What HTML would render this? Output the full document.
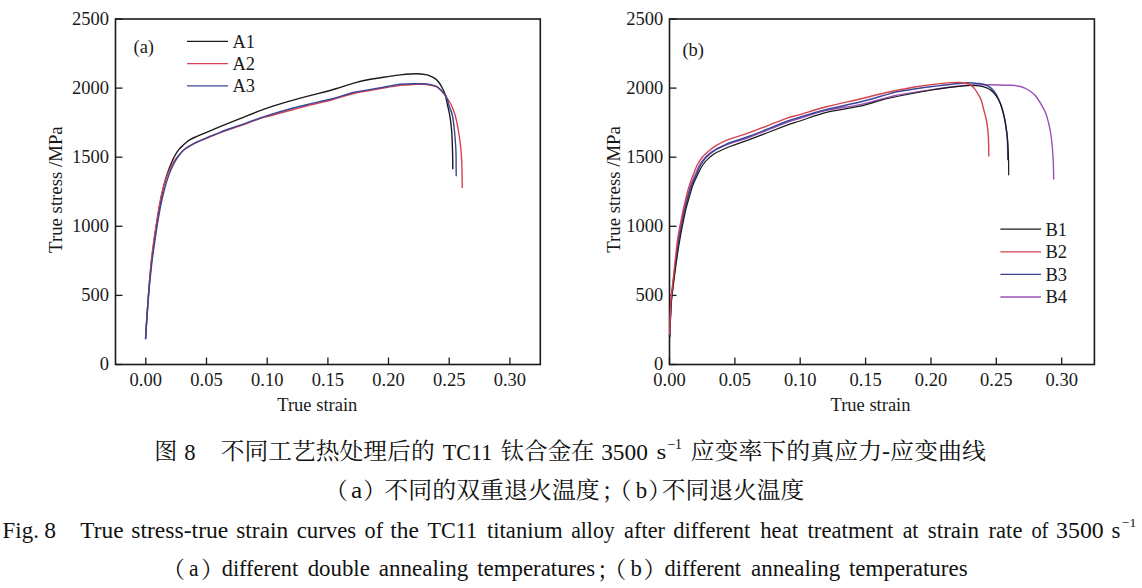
<!DOCTYPE html>
<html><head><meta charset="utf-8">
<style>
html,body{margin:0;padding:0;background:#fff;}
body{width:1142px;height:588px;position:relative;overflow:hidden;}
svg{position:absolute;left:0;top:0;}
</style></head><body>
<svg width="1142" height="588" viewBox="0 0 1142 588">
<g font-family="Liberation Serif, serif" font-size="18.5" fill="#1a1a1a">
<text x="145.8" y="385.6" text-anchor="middle">0.00</text>
<text x="206.5" y="385.6" text-anchor="middle">0.05</text>
<text x="267.2" y="385.6" text-anchor="middle">0.10</text>
<text x="327.9" y="385.6" text-anchor="middle">0.15</text>
<text x="388.5" y="385.6" text-anchor="middle">0.20</text>
<text x="449.2" y="385.6" text-anchor="middle">0.25</text>
<text x="509.9" y="385.6" text-anchor="middle">0.30</text>
<text x="669.5" y="385.6" text-anchor="middle">0.00</text>
<text x="734.9" y="385.6" text-anchor="middle">0.05</text>
<text x="800.2" y="385.6" text-anchor="middle">0.10</text>
<text x="865.6" y="385.6" text-anchor="middle">0.15</text>
<text x="931.0" y="385.6" text-anchor="middle">0.20</text>
<text x="996.3" y="385.6" text-anchor="middle">0.25</text>
<text x="1061.7" y="385.6" text-anchor="middle">0.30</text>
<text x="109" y="370.0" text-anchor="end">0</text>
<text x="663.2" y="370.0" text-anchor="end">0</text>
<text x="109" y="300.9" text-anchor="end">500</text>
<text x="663.2" y="300.9" text-anchor="end">500</text>
<text x="109" y="231.8" text-anchor="end">1000</text>
<text x="663.2" y="231.8" text-anchor="end">1000</text>
<text x="109" y="162.7" text-anchor="end">1500</text>
<text x="663.2" y="162.7" text-anchor="end">1500</text>
<text x="109" y="93.6" text-anchor="end">2000</text>
<text x="663.2" y="93.6" text-anchor="end">2000</text>
<text x="109" y="24.5" text-anchor="end">2500</text>
<text x="663.2" y="24.5" text-anchor="end">2500</text>
<text x="317.3" y="411.2" text-anchor="middle">True strain</text>
<text x="870.5" y="411.3" text-anchor="middle">True strain</text>
<text transform="translate(62.1,189.6) rotate(-90)" text-anchor="middle" font-size="18.8">True stress /MPa</text>
<text transform="translate(620.1,189.4) rotate(-90)" text-anchor="middle" font-size="18.8">True stress /MPa</text>
<text x="133.5" y="52.9">(a)</text>
<text x="682.4" y="55.9">(b)</text>
<text x="232.4" y="47.7">A1</text>
<text x="232.4" y="69.9">A2</text>
<text x="232.4" y="92.1">A3</text>
<text x="1045.5" y="235.5">B1</text>
<text x="1045.5" y="258.1">B2</text>
<text x="1045.5" y="280.7">B3</text>
<text x="1045.5" y="303.3">B4</text>
</g>
<rect x="115.5" y="19.0" width="424.79999999999995" height="345.5" fill="none" stroke="#1a1a1a" stroke-width="1.6"/>
<line x1="145.8" y1="364.5" x2="145.8" y2="357.5" stroke="#1a1a1a" stroke-width="1.3"/>
<line x1="206.5" y1="364.5" x2="206.5" y2="357.5" stroke="#1a1a1a" stroke-width="1.3"/>
<line x1="267.2" y1="364.5" x2="267.2" y2="357.5" stroke="#1a1a1a" stroke-width="1.3"/>
<line x1="327.9" y1="364.5" x2="327.9" y2="357.5" stroke="#1a1a1a" stroke-width="1.3"/>
<line x1="388.5" y1="364.5" x2="388.5" y2="357.5" stroke="#1a1a1a" stroke-width="1.3"/>
<line x1="449.2" y1="364.5" x2="449.2" y2="357.5" stroke="#1a1a1a" stroke-width="1.3"/>
<line x1="509.9" y1="364.5" x2="509.9" y2="357.5" stroke="#1a1a1a" stroke-width="1.3"/>
<line x1="115.5" y1="364.5" x2="122.5" y2="364.5" stroke="#1a1a1a" stroke-width="1.3"/>
<line x1="115.5" y1="295.4" x2="122.5" y2="295.4" stroke="#1a1a1a" stroke-width="1.3"/>
<line x1="115.5" y1="226.3" x2="122.5" y2="226.3" stroke="#1a1a1a" stroke-width="1.3"/>
<line x1="115.5" y1="157.2" x2="122.5" y2="157.2" stroke="#1a1a1a" stroke-width="1.3"/>
<line x1="115.5" y1="88.1" x2="122.5" y2="88.1" stroke="#1a1a1a" stroke-width="1.3"/>
<line x1="115.5" y1="19.0" x2="122.5" y2="19.0" stroke="#1a1a1a" stroke-width="1.3"/>
<rect x="669.5" y="19.0" width="424.9000000000001" height="345.5" fill="none" stroke="#1a1a1a" stroke-width="1.6"/>
<line x1="669.5" y1="364.5" x2="669.5" y2="357.5" stroke="#1a1a1a" stroke-width="1.3"/>
<line x1="734.9" y1="364.5" x2="734.9" y2="357.5" stroke="#1a1a1a" stroke-width="1.3"/>
<line x1="800.2" y1="364.5" x2="800.2" y2="357.5" stroke="#1a1a1a" stroke-width="1.3"/>
<line x1="865.6" y1="364.5" x2="865.6" y2="357.5" stroke="#1a1a1a" stroke-width="1.3"/>
<line x1="931.0" y1="364.5" x2="931.0" y2="357.5" stroke="#1a1a1a" stroke-width="1.3"/>
<line x1="996.3" y1="364.5" x2="996.3" y2="357.5" stroke="#1a1a1a" stroke-width="1.3"/>
<line x1="1061.7" y1="364.5" x2="1061.7" y2="357.5" stroke="#1a1a1a" stroke-width="1.3"/>
<line x1="669.5" y1="364.5" x2="676.5" y2="364.5" stroke="#1a1a1a" stroke-width="1.3"/>
<line x1="669.5" y1="295.4" x2="676.5" y2="295.4" stroke="#1a1a1a" stroke-width="1.3"/>
<line x1="669.5" y1="226.3" x2="676.5" y2="226.3" stroke="#1a1a1a" stroke-width="1.3"/>
<line x1="669.5" y1="157.2" x2="676.5" y2="157.2" stroke="#1a1a1a" stroke-width="1.3"/>
<line x1="669.5" y1="88.1" x2="676.5" y2="88.1" stroke="#1a1a1a" stroke-width="1.3"/>
<line x1="669.5" y1="19.0" x2="676.5" y2="19.0" stroke="#1a1a1a" stroke-width="1.3"/>
<line x1="187" y1="41.4" x2="228" y2="41.4" stroke="#1a1a1a" stroke-width="1.3"/>
<line x1="187" y1="63.6" x2="228" y2="63.6" stroke="#d6424f" stroke-width="1.3"/>
<line x1="187" y1="85.8" x2="228" y2="85.8" stroke="#3b4699" stroke-width="1.3"/>
<line x1="1000.4" y1="229.2" x2="1041" y2="229.2" stroke="#1a1a1a" stroke-width="1.3"/>
<line x1="1000.4" y1="251.8" x2="1041" y2="251.8" stroke="#d6424f" stroke-width="1.3"/>
<line x1="1000.4" y1="274.4" x2="1041" y2="274.4" stroke="#3b4699" stroke-width="1.3"/>
<line x1="1000.4" y1="297.0" x2="1041" y2="297.0" stroke="#9c50b6" stroke-width="1.3"/>
<path d="M145.6 338.5 C145.8 335.4 146.3 326.2 146.7 320.0 C147.1 313.8 147.5 307.7 148.0 301.0 C148.5 294.3 149.1 286.8 149.7 280.0 C150.3 273.2 150.9 266.7 151.7 260.0 C152.5 253.3 153.4 246.7 154.3 240.0 C155.2 233.3 156.4 226.0 157.3 220.0 C158.2 214.0 159.1 209.0 160.0 204.0 C160.9 199.0 161.9 194.2 162.8 190.0 C163.7 185.8 164.6 182.3 165.6 179.0 C166.6 175.7 167.6 172.8 168.6 170.0 C169.6 167.2 170.7 164.5 171.8 162.0 C172.9 159.5 174.0 157.1 175.2 155.0 C176.4 152.9 177.4 151.3 178.8 149.6 C180.2 147.9 182.1 146.2 183.4 145.0 C184.7 143.8 185.2 143.2 186.5 142.2 C187.8 141.2 189.5 140.1 191.0 139.2 C192.5 138.3 193.2 138.0 195.7 136.9 C198.2 135.8 201.7 134.4 205.9 132.6 C210.2 130.8 215.5 128.5 221.2 126.2 C226.9 123.9 232.7 121.5 240.0 118.6 C247.3 115.7 256.3 111.8 264.9 108.8 C273.5 105.8 284.0 102.8 291.5 100.6 C299.0 98.4 303.6 97.3 310.0 95.6 C316.4 93.9 324.9 91.9 330.0 90.5 C335.1 89.1 336.2 88.6 340.5 87.3 C344.8 86.0 350.5 83.9 355.5 82.6 C360.5 81.3 365.6 80.2 370.5 79.3 C375.4 78.4 380.0 77.7 385.0 77.0 C390.0 76.3 395.2 75.4 400.5 74.9 C405.8 74.4 412.3 73.8 416.5 73.8 C420.7 73.8 423.2 74.2 425.6 74.6 C428.0 75.0 429.4 75.7 431.0 76.4 C432.6 77.1 434.2 77.9 435.5 78.9 C436.8 79.9 437.9 81.0 439.0 82.5 C440.1 84.0 441.2 85.9 442.3 88.0 C443.4 90.1 444.4 92.2 445.3 95.0 C446.2 97.8 446.8 101.7 447.5 105.0 C448.2 108.3 449.0 110.8 449.7 115.0 C450.4 119.2 451.1 124.2 451.6 130.0 C452.1 135.8 452.3 143.5 452.5 150.0 C452.7 156.5 452.8 165.7 452.8 168.8" fill="none" stroke="#1a1a1a" stroke-width="1.4" stroke-linejoin="round" stroke-linecap="round"/>
<path d="M145.6 338.5 C145.8 335.4 146.3 326.2 146.7 320.0 C147.1 313.8 147.5 307.7 148.0 301.0 C148.5 294.3 149.0 286.8 149.6 280.0 C150.2 273.2 150.7 266.7 151.4 260.0 C152.1 253.3 153.0 246.7 153.9 240.0 C154.8 233.3 156.0 226.0 156.9 220.0 C157.8 214.0 158.7 209.0 159.6 204.0 C160.5 199.0 161.5 194.2 162.6 190.0 C163.7 185.8 164.8 182.3 165.9 179.0 C167.1 175.7 168.2 172.8 169.5 170.0 C170.8 167.2 172.1 164.5 173.7 162.0 C175.3 159.5 177.1 157.1 178.9 155.0 C180.7 152.9 182.7 150.8 184.5 149.2 C186.3 147.6 187.9 146.7 190.0 145.5 C192.1 144.3 194.3 143.3 197.0 142.2 C199.7 141.0 201.9 140.2 205.9 138.6 C209.9 137.0 215.5 134.5 221.2 132.4 C226.9 130.3 232.7 128.3 240.0 125.8 C247.3 123.3 256.3 119.8 264.9 117.2 C273.5 114.6 284.0 112.0 291.5 110.0 C299.0 108.0 303.2 106.7 310.0 105.0 C316.8 103.3 324.6 101.7 332.0 99.7 C339.4 97.7 346.7 95.0 354.5 93.2 C362.3 91.4 371.3 90.2 379.0 88.9 C386.7 87.6 394.2 86.2 400.5 85.4 C406.8 84.7 412.6 84.6 416.5 84.4 C420.4 84.2 421.4 84.2 424.0 84.4 C426.6 84.6 429.9 85.2 431.8 85.5 C433.7 85.8 434.3 85.9 435.5 86.4 C436.7 86.9 437.8 87.6 439.0 88.6 C440.2 89.6 441.4 91.0 442.5 92.2 C443.6 93.4 444.5 94.6 445.5 96.0 C446.5 97.4 447.5 99.0 448.5 100.5 C449.5 102.0 450.2 102.6 451.3 105.0 C452.4 107.4 453.9 110.8 455.1 115.0 C456.3 119.2 457.3 124.2 458.3 130.0 C459.3 135.8 460.4 143.3 461.0 150.0 C461.6 156.7 461.8 163.8 462.0 170.0 C462.2 176.2 462.2 184.6 462.3 187.5" fill="none" stroke="#d6424f" stroke-width="1.4" stroke-linejoin="round" stroke-linecap="round"/>
<path d="M145.6 338.5 C145.8 335.4 146.4 326.2 146.8 320.0 C147.2 313.8 147.7 307.7 148.2 301.0 C148.7 294.3 149.3 286.8 150.0 280.0 C150.7 273.2 151.4 266.7 152.2 260.0 C153.0 253.3 154.0 246.7 155.0 240.0 C156.0 233.3 157.1 226.0 158.1 220.0 C159.1 214.0 160.0 209.0 161.0 204.0 C162.0 199.0 163.2 194.2 164.3 190.0 C165.4 185.8 166.4 182.3 167.5 179.0 C168.6 175.7 169.7 172.8 170.9 170.0 C172.1 167.2 173.4 164.5 174.8 162.0 C176.2 159.5 177.6 157.2 179.3 155.0 C181.0 152.8 183.0 150.6 185.0 149.0 C187.0 147.4 189.5 146.4 191.5 145.2 C193.5 144.0 194.6 143.2 197.0 142.0 C199.4 140.8 201.9 139.8 205.9 138.1 C209.9 136.4 215.5 134.0 221.2 131.8 C226.9 129.7 232.7 127.8 240.0 125.2 C247.3 122.6 256.3 119.2 264.9 116.4 C273.5 113.6 284.0 110.6 291.5 108.5 C299.0 106.4 303.2 105.5 310.0 103.9 C316.8 102.3 324.6 100.7 332.0 98.8 C339.4 96.9 346.7 94.1 354.5 92.3 C362.3 90.5 371.3 89.3 379.0 88.0 C386.7 86.7 394.2 85.0 400.5 84.3 C406.8 83.6 412.6 83.8 416.5 83.7 C420.4 83.6 421.4 83.6 424.0 83.8 C426.6 84.0 429.9 84.6 431.8 84.9 C433.7 85.2 434.3 85.4 435.5 85.9 C436.7 86.5 437.8 87.2 439.0 88.2 C440.2 89.2 441.4 90.4 442.5 91.6 C443.6 92.8 444.7 93.8 445.5 95.2 C446.3 96.6 446.9 98.4 447.5 100.0 C448.1 101.6 448.0 102.5 448.8 105.0 C449.6 107.5 451.4 110.8 452.3 115.0 C453.2 119.2 453.8 124.2 454.4 130.0 C455.0 135.8 455.6 144.2 455.9 150.0 C456.2 155.8 456.1 160.7 456.1 165.0 C456.2 169.3 456.2 173.9 456.2 175.7" fill="none" stroke="#3b4699" stroke-width="1.4" stroke-linejoin="round" stroke-linecap="round"/>
<path d="M669.6 337.0 C669.7 333.8 670.1 324.2 670.4 318.0 C670.6 311.8 670.7 305.5 671.1 300.0 C671.5 294.5 672.2 290.0 672.8 285.0 C673.4 280.0 673.9 275.0 674.5 270.0 C675.1 265.0 675.7 260.0 676.3 255.0 C676.9 250.0 677.4 245.0 678.2 240.0 C679.0 235.0 680.0 230.0 681.0 225.0 C682.0 220.0 683.0 214.7 684.0 210.0 C685.0 205.3 686.2 201.2 687.3 197.0 C688.4 192.8 689.5 188.7 690.8 185.0 C692.1 181.3 693.5 178.3 695.0 175.0 C696.5 171.7 697.9 167.8 699.5 165.0 C701.1 162.2 703.0 160.0 704.8 158.0 C706.5 156.0 708.4 154.3 710.0 153.0 C711.6 151.7 712.7 151.1 714.7 150.0 C716.7 148.9 719.2 147.7 722.0 146.5 C724.8 145.3 726.5 144.6 731.2 143.0 C735.9 141.4 740.9 140.4 750.0 137.0 C759.1 133.6 777.4 125.9 785.7 122.8 C794.0 119.7 793.2 120.4 800.0 118.3 C806.8 116.2 816.4 112.7 826.4 110.4 C836.4 108.1 849.4 106.8 860.0 104.6 C870.6 102.3 883.3 98.6 890.0 96.9 C896.7 95.2 893.0 95.8 900.0 94.6 C907.0 93.4 921.4 91.1 932.0 89.6 C942.6 88.1 956.4 86.3 963.6 85.5 C970.8 84.7 970.5 85.1 975.0 85.0 C979.5 84.9 984.6 84.7 990.6 84.7 C996.6 84.8 1006.3 85.0 1011.0 85.3 C1015.7 85.6 1016.6 85.8 1019.0 86.3 C1021.4 86.8 1023.3 87.5 1025.3 88.4 C1027.3 89.3 1029.3 90.6 1031.0 91.8 C1032.7 93.0 1034.2 94.4 1035.5 95.8 C1036.8 97.2 1037.3 98.2 1038.5 100.0 C1039.7 101.8 1041.2 104.4 1042.5 106.7 C1043.8 109.0 1045.0 111.3 1046.0 114.0 C1047.0 116.7 1047.8 120.0 1048.6 123.0 C1049.3 126.0 1050.0 129.2 1050.5 132.0 C1051.0 134.8 1051.2 136.7 1051.6 140.0 C1052.0 143.3 1052.4 148.3 1052.7 152.0 C1053.0 155.7 1053.1 157.5 1053.3 162.0 C1053.5 166.5 1053.6 176.2 1053.7 179.0" fill="none" stroke="#9c50b6" stroke-width="1.4" stroke-linejoin="round" stroke-linecap="round"/>
<path d="M669.6 336.0 C669.7 333.0 670.1 324.0 670.4 318.0 C670.7 312.0 670.9 305.5 671.3 300.0 C671.7 294.5 672.4 290.0 673.0 285.0 C673.6 280.0 674.2 275.0 674.8 270.0 C675.4 265.0 676.0 260.0 676.7 255.0 C677.4 250.0 678.1 245.0 678.9 240.0 C679.7 235.0 680.6 230.0 681.6 225.0 C682.6 220.0 683.5 214.7 684.6 210.0 C685.7 205.3 686.8 201.2 688.0 197.0 C689.2 192.8 690.4 188.7 691.8 185.0 C693.2 181.3 694.7 178.3 696.2 175.0 C697.7 171.7 699.1 167.8 700.6 165.0 C702.1 162.2 703.9 159.9 705.5 158.0 C707.1 156.1 708.8 154.9 710.5 153.5 C712.2 152.1 713.9 150.8 716.0 149.6 C718.1 148.3 720.5 147.2 723.0 146.0 C725.5 144.8 726.7 144.0 731.2 142.3 C735.7 140.6 740.9 139.4 750.0 136.0 C759.1 132.6 777.4 124.9 785.7 121.8 C794.0 118.7 793.2 119.3 800.0 117.2 C806.8 115.1 816.4 111.9 826.4 109.4 C836.4 106.9 849.4 104.6 860.0 102.0 C870.6 99.4 883.3 95.4 890.0 93.6 C896.7 91.8 893.0 92.5 900.0 91.3 C907.0 90.1 921.4 88.0 932.0 86.6 C942.6 85.2 955.7 83.5 963.6 83.0 C971.5 82.5 975.4 83.2 979.3 83.6 C983.2 84.0 984.6 84.3 987.0 85.5 C989.4 86.7 991.6 88.2 993.5 90.5 C995.4 92.8 997.1 96.0 998.5 99.0 C999.9 102.0 1001.1 105.0 1002.1 108.5 C1003.1 112.0 1004.0 116.1 1004.8 120.0 C1005.5 123.9 1006.2 128.7 1006.6 132.0 C1007.0 135.3 1007.2 137.0 1007.4 140.0 C1007.6 143.0 1007.6 146.8 1007.7 150.0 C1007.8 153.2 1007.8 157.9 1007.8 159.5" fill="none" stroke="#3b4699" stroke-width="1.5" stroke-linejoin="round" stroke-linecap="round"/>
<path d="M669.6 338.0 C669.8 334.7 670.2 324.3 670.5 318.0 C670.8 311.7 671.1 305.5 671.6 300.0 C672.1 294.5 672.8 290.0 673.4 285.0 C674.0 280.0 674.6 275.0 675.3 270.0 C676.0 265.0 676.6 260.0 677.4 255.0 C678.1 250.0 678.9 245.0 679.8 240.0 C680.7 235.0 681.6 230.0 682.6 225.0 C683.6 220.0 684.6 214.7 685.7 210.0 C686.8 205.3 688.1 201.2 689.3 197.0 C690.5 192.8 691.6 188.7 693.0 185.0 C694.4 181.3 695.9 178.3 697.5 175.0 C699.1 171.7 700.9 167.8 702.7 165.0 C704.5 162.2 706.6 160.2 708.5 158.4 C710.4 156.6 711.8 155.4 714.0 154.0 C716.2 152.6 718.9 151.3 721.8 150.0 C724.7 148.7 726.5 147.8 731.2 146.0 C735.9 144.2 740.9 142.8 750.0 139.4 C759.1 136.0 777.4 128.7 785.7 125.6 C794.0 122.5 793.2 123.2 800.0 121.0 C806.8 118.8 816.4 114.9 826.4 112.4 C836.4 109.9 849.4 108.6 860.0 106.2 C870.6 103.8 878.0 100.7 890.0 98.0 C902.0 95.3 919.7 92.0 932.0 90.0 C944.3 88.0 955.7 86.5 963.6 85.8 C971.5 85.1 975.4 85.4 979.3 85.8 C983.2 86.2 984.6 86.9 987.0 88.0 C989.4 89.1 991.5 90.5 993.5 92.5 C995.5 94.5 997.2 97.2 998.7 100.0 C1000.2 102.8 1001.2 105.7 1002.2 109.0 C1003.2 112.3 1004.1 116.2 1004.9 120.0 C1005.7 123.8 1006.3 128.7 1006.8 132.0 C1007.2 135.3 1007.3 136.2 1007.6 140.0 C1007.9 143.8 1008.2 149.2 1008.4 155.0 C1008.6 160.8 1008.7 171.5 1008.7 174.8" fill="none" stroke="#1a1a1a" stroke-width="1.2" stroke-linejoin="round" stroke-linecap="round"/>
<path d="M669.6 334.0 C669.7 331.3 670.1 323.7 670.3 318.0 C670.5 312.3 670.6 305.5 671.0 300.0 C671.4 294.5 672.1 290.0 672.6 285.0 C673.1 280.0 673.7 275.0 674.2 270.0 C674.7 265.0 675.2 260.0 675.8 255.0 C676.3 250.0 676.8 245.0 677.5 240.0 C678.2 235.0 679.2 230.0 680.2 225.0 C681.2 220.0 682.2 214.7 683.2 210.0 C684.2 205.3 685.2 201.2 686.2 197.0 C687.2 192.8 688.3 188.7 689.5 185.0 C690.7 181.3 691.9 178.3 693.2 175.0 C694.5 171.7 695.7 168.0 697.2 165.0 C698.8 162.0 700.4 159.5 702.5 157.0 C704.6 154.5 707.6 152.0 710.0 150.0 C712.4 148.0 714.6 146.6 716.9 145.2 C719.2 143.8 721.6 142.4 724.0 141.3 C726.4 140.2 726.9 140.1 731.2 138.6 C735.5 137.1 740.9 135.7 750.0 132.4 C759.1 129.1 777.4 121.6 785.7 118.6 C794.0 115.6 793.2 116.6 800.0 114.6 C806.8 112.6 816.4 109.4 826.4 106.8 C836.4 104.2 849.4 101.5 860.0 99.0 C870.6 96.5 880.6 93.8 890.0 91.8 C899.4 89.8 907.5 88.2 916.3 86.8 C925.0 85.4 935.5 84.1 942.5 83.4 C949.5 82.7 954.5 82.5 958.3 82.4 C962.1 82.3 963.5 82.5 965.5 83.0 C967.5 83.5 969.0 84.3 970.5 85.2 C972.0 86.1 973.2 87.1 974.5 88.6 C975.8 90.1 976.9 92.1 978.0 94.0 C979.1 95.9 980.2 97.3 981.2 100.0 C982.2 102.7 982.9 106.7 983.8 110.0 C984.7 113.3 985.7 116.7 986.4 120.0 C987.1 123.3 987.4 126.7 987.8 130.0 C988.1 133.3 988.3 135.7 988.5 140.0 C988.7 144.3 988.8 153.4 988.8 156.1" fill="none" stroke="#d6424f" stroke-width="1.4" stroke-linejoin="round" stroke-linecap="round"/>
<g fill="#111">
<text x="154.26" y="459.1" font-family="Liberation Serif, 'Noto Serif CJK SC', serif" font-size="23.0" textLength="23.05" lengthAdjust="spacingAndGlyphs">图</text>
<text x="184.30" y="459.8" font-family="Liberation Serif, serif" font-size="24.0" textLength="11.31" lengthAdjust="spacingAndGlyphs">8</text>
<text x="220.67" y="459.1" font-family="Liberation Serif, 'Noto Serif CJK SC', serif" font-size="23.0" textLength="214.00" lengthAdjust="spacingAndGlyphs">不同工艺热处理后的</text>
<text x="442.86" y="459.8" font-family="Liberation Serif, serif" font-size="24.0" textLength="49.38" lengthAdjust="spacingAndGlyphs">TC11</text>
<text x="500.80" y="459.1" font-family="Liberation Serif, 'Noto Serif CJK SC', serif" font-size="23.0" textLength="93.66" lengthAdjust="spacingAndGlyphs">钛合金在</text>
<text x="601.13" y="459.8" font-family="Liberation Serif, serif" font-size="24.0" textLength="46.70" lengthAdjust="spacingAndGlyphs">3500</text>
<text x="656.40" y="459.1" font-family="Liberation Serif, serif" font-size="20.5" textLength="9.76" lengthAdjust="spacingAndGlyphs">s</text>
<text x="667.21" y="448.8" font-family="Liberation Serif, serif" font-size="14.5" textLength="14.71" lengthAdjust="spacingAndGlyphs">−1</text>
<text x="690.52" y="459.1" font-family="Liberation Serif, 'Noto Serif CJK SC', serif" font-size="23.0" textLength="295.35" lengthAdjust="spacingAndGlyphs">应变率下的真应力-应变曲线</text>
<text x="324.67" y="499.3" font-family="Liberation Serif, 'Noto Serif CJK SC', serif" font-size="23.0">（</text>
<text x="350.91" y="497.7" font-family="Liberation Serif, serif" font-size="24.0" textLength="11.24" lengthAdjust="spacingAndGlyphs">a</text>
<text x="363.28" y="499.3" font-family="Liberation Serif, 'Noto Serif CJK SC', serif" font-size="23.0">）</text>
<text x="384.36" y="497.8" font-family="Liberation Serif, 'Noto Serif CJK SC', serif" font-size="23.0" textLength="215.38" lengthAdjust="spacingAndGlyphs">不同的双重退火温度</text>
<text x="601.85" y="498.6" font-family="Liberation Serif, 'Noto Serif CJK SC', serif" font-size="23.0">；</text>
<text x="608.52" y="499.3" font-family="Liberation Serif, 'Noto Serif CJK SC', serif" font-size="23.0">（</text>
<text x="635.70" y="497.7" font-family="Liberation Serif, serif" font-size="24.0" textLength="11.41" lengthAdjust="spacingAndGlyphs">b</text>
<text x="648.28" y="499.3" font-family="Liberation Serif, 'Noto Serif CJK SC', serif" font-size="23.0">）</text>
<text x="661.67" y="497.8" font-family="Liberation Serif, 'Noto Serif CJK SC', serif" font-size="23.0" textLength="142.67" lengthAdjust="spacingAndGlyphs">不同退火温度</text>
<text x="2.61" y="538.0" font-family="Liberation Serif, serif" font-size="22.8" textLength="36.25" lengthAdjust="spacingAndGlyphs">Fig.</text>
<text x="44.36" y="538.0" font-family="Liberation Serif, serif" font-size="22.8" textLength="11.79" lengthAdjust="spacingAndGlyphs">8</text>
<text x="80.33" y="538.0" font-family="Liberation Serif, serif" font-size="22.8" textLength="43.23" lengthAdjust="spacingAndGlyphs">True</text>
<text x="131.26" y="538.0" font-family="Liberation Serif, serif" font-size="22.8" textLength="97.07" lengthAdjust="spacingAndGlyphs">stress-true</text>
<text x="236.27" y="538.0" font-family="Liberation Serif, serif" font-size="22.8" textLength="51.93" lengthAdjust="spacingAndGlyphs">strain</text>
<text x="296.69" y="538.0" font-family="Liberation Serif, serif" font-size="22.8" textLength="59.51" lengthAdjust="spacingAndGlyphs">curves</text>
<text x="364.61" y="538.0" font-family="Liberation Serif, serif" font-size="22.8" textLength="18.55" lengthAdjust="spacingAndGlyphs">of</text>
<text x="390.27" y="538.0" font-family="Liberation Serif, serif" font-size="22.8" textLength="28.59" lengthAdjust="spacingAndGlyphs">the</text>
<text x="427.46" y="538.0" font-family="Liberation Serif, serif" font-size="22.8" textLength="49.69" lengthAdjust="spacingAndGlyphs">TC11</text>
<text x="486.97" y="538.0" font-family="Liberation Serif, serif" font-size="22.8" textLength="75.54" lengthAdjust="spacingAndGlyphs">titanium</text>
<text x="571.14" y="538.0" font-family="Liberation Serif, serif" font-size="22.8" textLength="43.56" lengthAdjust="spacingAndGlyphs">alloy</text>
<text x="624.12" y="538.0" font-family="Liberation Serif, serif" font-size="22.8" textLength="40.93" lengthAdjust="spacingAndGlyphs">after</text>
<text x="673.31" y="538.0" font-family="Liberation Serif, serif" font-size="22.8" textLength="77.09" lengthAdjust="spacingAndGlyphs">different</text>
<text x="760.27" y="538.0" font-family="Liberation Serif, serif" font-size="22.8" textLength="37.75" lengthAdjust="spacingAndGlyphs">heat</text>
<text x="807.57" y="538.0" font-family="Liberation Serif, serif" font-size="22.8" textLength="85.76" lengthAdjust="spacingAndGlyphs">treatment</text>
<text x="902.63" y="538.0" font-family="Liberation Serif, serif" font-size="22.8" textLength="15.81" lengthAdjust="spacingAndGlyphs">at</text>
<text x="927.78" y="538.0" font-family="Liberation Serif, serif" font-size="22.8" textLength="51.21" lengthAdjust="spacingAndGlyphs">strain</text>
<text x="988.55" y="538.0" font-family="Liberation Serif, serif" font-size="22.8" textLength="33.91" lengthAdjust="spacingAndGlyphs">rate</text>
<text x="1031.38" y="538.0" font-family="Liberation Serif, serif" font-size="22.8" textLength="17.08" lengthAdjust="spacingAndGlyphs">of</text>
<text x="1056.11" y="538.0" font-family="Liberation Serif, serif" font-size="22.8" textLength="47.64" lengthAdjust="spacingAndGlyphs">3500</text>
<text x="1111.59" y="538.0" font-family="Liberation Serif, serif" font-size="22.8" textLength="8.90" lengthAdjust="spacingAndGlyphs">s</text>
<text x="1121.82" y="527.3" font-family="Liberation Serif, serif" font-size="13.5" textLength="14.37" lengthAdjust="spacingAndGlyphs">−1</text>
<text x="188.95" y="575.8" font-family="Liberation Serif, serif" font-size="22.8" textLength="9.55" lengthAdjust="spacingAndGlyphs">a</text>
<text x="221.72" y="575.8" font-family="Liberation Serif, serif" font-size="22.8" textLength="76.48" lengthAdjust="spacingAndGlyphs">different</text>
<text x="307.70" y="575.8" font-family="Liberation Serif, serif" font-size="22.8" textLength="62.14" lengthAdjust="spacingAndGlyphs">double</text>
<text x="378.69" y="575.8" font-family="Liberation Serif, serif" font-size="22.8" textLength="89.60" lengthAdjust="spacingAndGlyphs">annealing</text>
<text x="477.27" y="575.8" font-family="Liberation Serif, serif" font-size="22.8" textLength="117.91" lengthAdjust="spacingAndGlyphs">temperatures</text>
<text x="630.60" y="575.8" font-family="Liberation Serif, serif" font-size="22.8" textLength="11.41" lengthAdjust="spacingAndGlyphs">b</text>
<text x="664.62" y="575.8" font-family="Liberation Serif, serif" font-size="22.8" textLength="76.48" lengthAdjust="spacingAndGlyphs">different</text>
<text x="751.00" y="575.8" font-family="Liberation Serif, serif" font-size="22.8" textLength="89.20" lengthAdjust="spacingAndGlyphs">annealing</text>
<text x="848.97" y="575.8" font-family="Liberation Serif, serif" font-size="22.8" textLength="118.61" lengthAdjust="spacingAndGlyphs">temperatures</text>
<text x="161.92" y="578.3" font-family="Liberation Serif, 'Noto Serif CJK SC', serif" font-size="23.0">（</text>
<text x="200.98" y="578.3" font-family="Liberation Serif, 'Noto Serif CJK SC', serif" font-size="23.0">）</text>
<text x="596.90" y="578.3" font-family="Liberation Serif, 'Noto Serif CJK SC', serif" font-size="23.0">；</text>
<text x="603.17" y="578.3" font-family="Liberation Serif, 'Noto Serif CJK SC', serif" font-size="23.0">（</text>
<text x="643.58" y="578.3" font-family="Liberation Serif, 'Noto Serif CJK SC', serif" font-size="23.0">）</text>
</g>
</svg>
</body></html>
